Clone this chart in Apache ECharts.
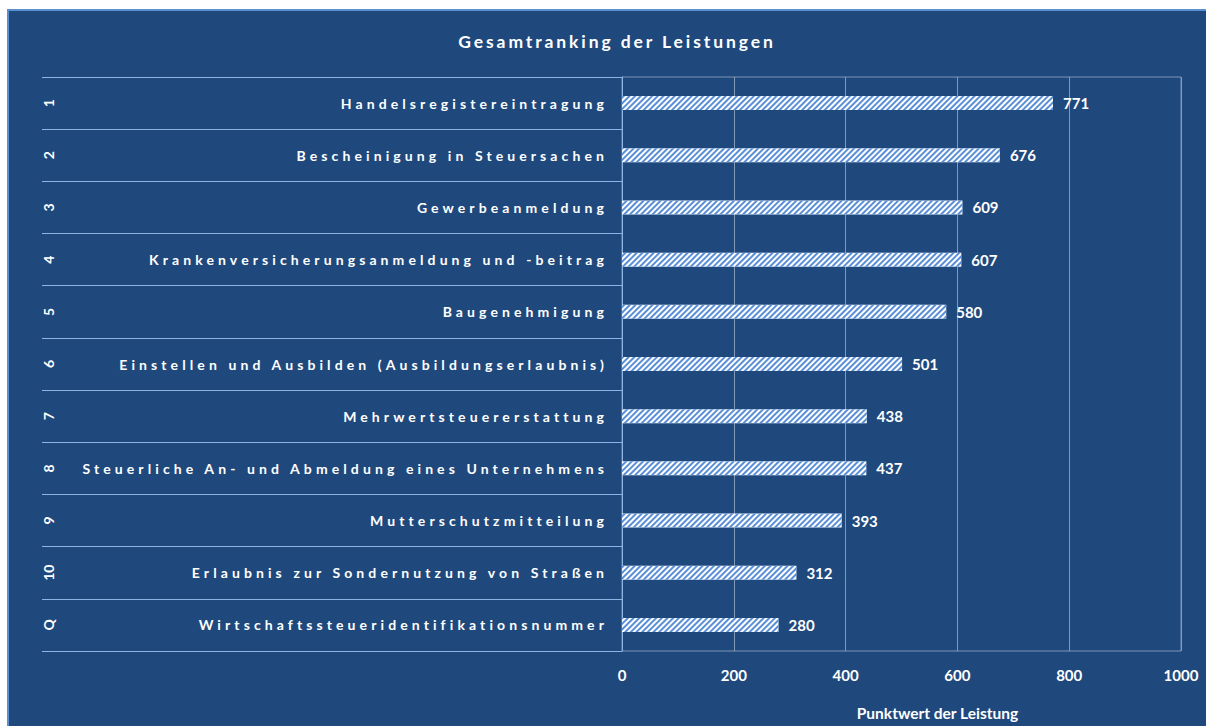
<!DOCTYPE html>
<html>
<head>
<meta charset="utf-8">
<script src="https://cdn.jsdelivr.net/npm/echarts@6/dist/echarts.min.js"></script>
<style>
html,body{margin:0;padding:0;width:1206px;height:726px;overflow:hidden;background:#ffffff;}
#frame{position:absolute;left:7px;top:9px;width:1220px;height:740px;background:#1f497d;border-top:2px solid #5b8fd0;border-left:2px solid #5b8fd0;box-sizing:border-box;}
#chart{position:absolute;left:0;top:0;width:1206px;height:726px;}
#chart text[style*="Noto Sans"], #chart text[font-family*="Noto Sans"]{letter-spacing:4.1px;}
#chart text[style*="DejaVu"], #chart text[font-family*="DejaVu"]{letter-spacing:2.9px;}
</style>
</head>
<body>
<div id="frame"></div>
<div id="chart"></div>
<script>
const ranks = ['1','2','3','4','5','6','7','8','9','10','Q'];
const categories = [
  'Handelsregistereintragung',
  'Bescheinigung in Steuersachen',
  'Gewerbeanmeldung',
  'Krankenversicherungsanmeldung und -beitrag',
  'Baugenehmigung',
  'Einstellen und Ausbilden (Ausbildungserlaubnis)',
  'Mehrwertsteuererstattung',
  'Steuerliche An- und Abmeldung eines Unternehmens',
  'Mutterschutzmitteilung',
  'Erlaubnis zur Sondernutzung von Straßen',
  'Wirtschaftssteueridentifikationsnummer'
];
const values = [771, 676, 609, 607, 580, 501, 438, 437, 393, 312, 280];
const xMin = 0, xMax = 1000, xStep = 200;
const titleText = 'Gesamtranking der Leistungen';
const xName = 'Punktwert der Leistung';

const chart = echarts.init(document.getElementById('chart'), null, {renderer: 'svg'});
chart.setOption({
  backgroundColor: 'transparent',
  animation: false,
  title: {
    text: titleText,
    left: 612,
    top: 27,
    textAlign: 'center',
    textStyle: {color: '#ffffff', fontSize: 17.5, fontWeight: 'bold', fontFamily: "Lato, 'DejaVu Sans'"}
  },
  grid: {
    left: 622, right: 25, top: 77, bottom: 74,
    show: true, borderColor: '#7f95b3', borderWidth: 1, backgroundColor: 'transparent'
  },
  xAxis: {
    type: 'value', min: xMin, max: xMax, interval: xStep,
    axisLine: {show: false}, axisTick: {show: false},
    splitLine: {show: true, lineStyle: {color: '#8399b8', width: 1}},
    axisLabel: {color: '#ffffff', fontSize: 15, fontWeight: 'bold', fontFamily: 'Lato', margin: 16,
      formatter: function (v) { return String(v); }},
    name: xName, nameLocation: 'middle', nameGap: 54,
    nameTextStyle: {color: '#ffffff', fontSize: 15.5, fontWeight: 'bold', fontFamily: 'Lato', padding: [0, 0, 0, 72]}
  },
  yAxis: [
    {
      type: 'category', data: categories, inverse: true,
      axisLine: {show: true, lineStyle: {color: '#8db4e2', width: 1}},
      axisTick: {show: true, length: 580, lineStyle: {color: '#8db4e2', width: 1}},
      splitLine: {show: false},
      axisLabel: {color: '#ffffff', fontSize: 14, fontWeight: 'bold', fontFamily: "Lato, 'Noto Sans'", margin: 14}
    },
    {
      type: 'category', data: ranks, inverse: true, position: 'left', offset: 563,
      axisLine: {show: false}, axisTick: {show: false}, splitLine: {show: false},
      axisLabel: {color: '#ffffff', fontSize: 14, fontWeight: 'bold', fontFamily: 'Lato', rotate: 90, margin: 4}
    }
  ],
  series: [{
    type: 'bar',
    data: values,
    yAxisIndex: 0,
    barWidth: 14,
    itemStyle: {
      color: '#ffffff',
      decal: {
        symbol: 'rect',
        color: '#5a8fd6',
        dashArrayX: [1, 0],
        dashArrayY: [1.2, 1.8],
        rotation: -Math.PI / 4
      }
    },
    label: {
      show: true, position: 'right', distance: 10,
      color: '#ffffff', fontSize: 15, fontWeight: 'bold', fontFamily: 'Lato'
    }
  }]
});
</script>
</body>
</html>
